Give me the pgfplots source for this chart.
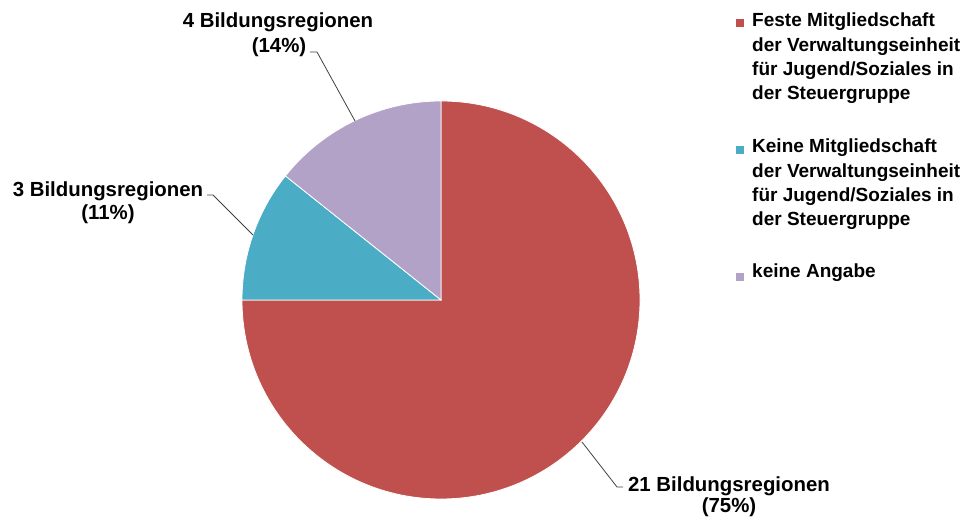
\documentclass[border=0pt]{standalone}
\usepackage{pgfplots}
\usepackage{pgfplotstable}
\pgfplotsset{compat=1.18}
\usepackage{fontspec}
\setmainfont{Liberation Sans}
\definecolor{cRed}{HTML}{C0504D}
\definecolor{cTeal}{HTML}{4BACC6}
\definecolor{cLav}{HTML}{B2A2C7}
\definecolor{cLine}{HTML}{404040}
\pgfplotstableread{
label value
Feste 21
Keine 3
Angabe 4
}\piedata
\begin{document}
\begin{tikzpicture}[x=1bp,y=1bp,font=\fontsize{19bp}{24.5bp}\selectfont\bfseries]
\useasboundingbox (0,0) rectangle (979,519);
\pgfplotstablegetelem{0}{value}\of\piedata \let\va\pgfplotsretval
\pgfplotstablegetelem{1}{value}\of\piedata \let\vb\pgfplotsretval
\pgfplotstablegetelem{2}{value}\of\piedata \let\vc\pgfplotsretval
\pgfmathsetmacro\total{\va+\vb+\vc}
\pgfmathsetmacro\aA{90}
\pgfmathsetmacro\aB{90-360*\va/\total}
\pgfmathsetmacro\aC{\aB-360*\vb/\total}
\pgfmathsetmacro\aD{\aC-360*\vc/\total}
\begin{axis}[
  at={(441bp,219bp)}, anchor=center,
  x=199bp, y=199bp,
  xmin=-1, xmax=1, ymin=-1, ymax=1,
  hide axis, clip=false,
]
\fill[cRed, draw=white, line width=0.8bp] (axis cs:0,0) -- +(\aA:199bp) arc[start angle=\aA, end angle=\aB, radius=199bp] -- cycle;
\fill[cTeal, draw=white, line width=0.8bp] (axis cs:0,0) -- +(\aB:199bp) arc[start angle=\aB, end angle=\aC, radius=199bp] -- cycle;
\fill[cLav, draw=white, line width=0.8bp] (axis cs:0,0) -- +(\aC:199bp) arc[start angle=\aC, end angle=\aD, radius=199bp] -- cycle;
\end{axis}
% leader lines
\draw[cLine, line width=0.8bp] (310,467) -- (317,467) -- (355,398);
\draw[cLine, line width=0.8bp] (207,324) -- (213,324) -- (253,284);
\draw[cLine, line width=0.8bp] (582,77) -- (617,32) -- (623,32);
% data labels
\begin{scope}[every node/.style={anchor=base, inner sep=0, font=\fontsize{20.4bp}{24bp}\selectfont\bfseries}]
\node at (278,491) {4 Bildungsregionen};
\node at (279,466) {(14\%)};
\node at (108,322) {3 Bildungsregionen};
\node at (108,299) {(11\%)};
\node at (729,27) {21 Bildungsregionen};
\node at (729,6) {(75\%)};
\end{scope}
% legend
\fill[cRed] (736,491.5) rectangle (744,499.5);
\fill[cTeal] (736,365) rectangle (744,373);
\fill[cLav] (736,238) rectangle (744,246);
\begin{scope}[every node/.style={anchor=base west, inner sep=0}]
\node at (752,492) {Feste Mitgliedschaft};
\node at (752,467.5) {der Verwaltungseinheit};
\node at (752,443) {für Jugend/Soziales in};
\node at (752,419) {der Steuergruppe};
\node at (752,366) {Keine Mitgliedschaft};
\node at (752,341) {der Verwaltungseinheit};
\node at (752,317) {für Jugend/Soziales in};
\node at (752,293) {der Steuergruppe};
\node at (752,241) {keine Angabe};
\end{scope}
\end{tikzpicture}
\end{document}
